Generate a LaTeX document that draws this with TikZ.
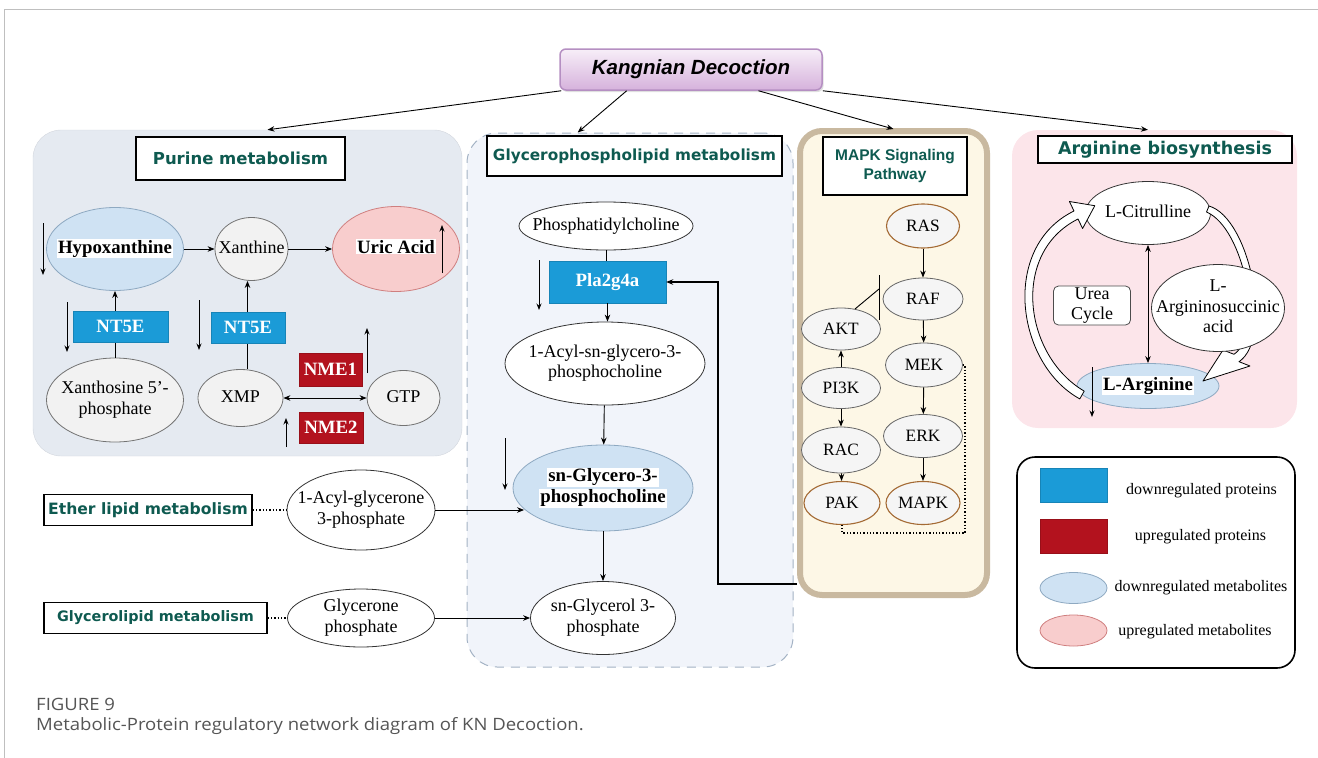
\documentclass[tikz,border=0pt]{standalone}
\usepackage{fontspec}
\usepackage{graphicx}
\setmainfont{Liberation Serif}
\newfontfamily\vsans{DejaVu Sans}
\newfontfamily\asans{Liberation Sans}
\newfontfamily\osans[FakeStretch=1.09]{Open Sans}
\usetikzlibrary{shapes.geometric,arrows.meta,calc,shadows}
\definecolor{tealT}{HTML}{0E5A50}
\definecolor{purFill}{HTML}{E5EAF1}
\definecolor{glyFill}{HTML}{F1F4FA}
\definecolor{glyDash}{HTML}{A3B2C4}
\definecolor{mapkFill}{HTML}{FDF7E6}
\definecolor{mapkEdge}{HTML}{C9B9A0}
\definecolor{argFill}{HTML}{FCE5EA}
\definecolor{metBlue}{HTML}{CFE2F3}
\definecolor{metBlueE}{HTML}{8EA9C1}
\definecolor{metPink}{HTML}{F8CDCD}
\definecolor{metPinkE}{HTML}{CF7F7F}
\definecolor{protBlue}{HTML}{1B9BD7}
\definecolor{protRed}{HTML}{B3121E}
\definecolor{nodeGray}{HTML}{F2F2F2}
\definecolor{brownE}{HTML}{A46A34}
\definecolor{kdTop}{HTML}{F7EEF8}
\definecolor{kdBot}{HTML}{D6B2DC}
\definecolor{kdEdge}{HTML}{B58FC2}
\definecolor{capGray}{HTML}{555555}
\definecolor{frameGray}{HTML}{BFBFBF}
\newcommand\FntN{\fontsize{18}{20.5}\selectfont}
\newcommand\FntB{\fontsize{18.8}{21}\selectfont\bfseries}
\newcommand\FntM{\fontsize{17.3}{19}\selectfont}
\newcommand\FntL{\fontsize{16}{18}\selectfont}
\newcommand\HiLite[1]{{\setlength{\fboxsep}{1pt}\colorbox{white}{#1}}}
\newcommand\Z[1]{\makebox[0pt]{\begin{tabular}{@{}c@{}}#1\end{tabular}}}
\begin{document}
\begin{tikzpicture}[x=1pt,y=-1pt,
 arr/.style={-{Stealth[length=7pt,width=5.5pt]},line width=0.9pt},
 darr/.style={{Stealth[length=7pt,width=5.5pt]}-{Stealth[length=7pt,width=5.5pt]},line width=0.9pt},
 ind/.style={-{Stealth[length=6.5pt,width=5pt]},line width=0.9pt},
 panel/.style={rectangle,inner sep=0pt},
 ttl/.style={rectangle,draw=black,line width=1.6pt,fill=white,inner sep=0pt,text=tealT},
 gnode/.style={ellipse,draw=black!55,fill=nodeGray,line width=0.8pt,inner sep=0pt,font=\FntN},
 wnode/.style={ellipse,draw=black!80,fill=white,line width=0.8pt,inner sep=0pt,font=\FntN},
 bnode/.style={ellipse,draw=metBlueE,fill=metBlue,line width=0.8pt,inner sep=0pt,font=\FntB},
 pnode/.style={ellipse,draw=metPinkE,fill=metPink,line width=0.8pt,inner sep=0pt,font=\FntB},
 mnode/.style={ellipse,draw=black!60,fill=white!96!black,line width=0.8pt,inner sep=0pt,font=\FntM,minimum width=79pt,minimum height=42pt},
 mbnode/.style={mnode,draw=brownE,line width=1.1pt},
 pbox/.style={rectangle,fill=protBlue,draw=protBlue!85!black,text=white,inner sep=0pt,font=\FntB},
 rbox/.style={rectangle,fill=protRed,draw=protRed!85!black,text=white,inner sep=0pt,font=\FntB},
 hollow/.style={draw=black,fill=white,line width=0.8pt,line join=round},
 dots/.style={dotted,line width=1.3pt}
]
\useasboundingbox (0,0) rectangle (1318,758);
% frame
\draw[frameGray,line width=1pt] (4.5,758) -- (4.5,9.5) -- (1318,9.5);

% panels
\node[panel,fill=purFill,draw=purFill!92!black,rounded corners=28pt,minimum width=429pt,minimum height=326pt] (purP) at (247.5,293) {};
\node[panel,fill=glyFill,draw=glyDash,dash pattern=on 9pt off 7pt,line width=1pt,rounded corners=30pt,minimum width=326pt,minimum height=534pt] (glyP) at (630,400) {};
\node[panel,fill=mapkFill,draw=mapkEdge,line width=6pt,rounded corners=22pt,minimum width=187pt,minimum height=464pt] (mapkP) at (893.5,363) {};
\node[panel,fill=argFill,rounded corners=26pt,minimum width=285pt,minimum height=298pt] (argP) at (1154.5,279) {};
\node[panel,draw=black,line width=1.6pt,rounded corners=18pt,minimum width=278pt,minimum height=211pt] (legP) at (1156,562.5) {};

% title
\node[rectangle,rounded corners=6pt,top color=kdTop,bottom color=kdBot,draw=kdEdge,line width=1.5pt,minimum width=262pt,minimum height=41pt,inner sep=0pt,drop shadow={shadow xshift=1.5pt,shadow yshift=-2pt,opacity=0.25},font=\asans\bfseries\itshape\fontsize{20.5}{24}\selectfont] (title) at (691,69.5) {Kangnian Decoction};
\draw[arr] ([xshift=2pt]title.south west) -- ([xshift=20pt]purP.north);
\draw[arr] ($(title.south west)!0.256!(title.south east)$) -- ($(glyP.north west)!0.34!(glyP.north east)$);
\draw[arr] ($(title.south west)!0.756!(title.south east)$) -- ([yshift=-1pt]mapkP.north);
\draw[arr] (title.south east) -- ($(argP.north west)!0.477!(argP.north east)$);

% panel titles
\node[ttl,minimum width=209pt,minimum height=43pt,font=\vsans\bfseries\fontsize{16.5}{19}\selectfont] (purT) at (240.5,158.5) {Purine metabolism};
\node[ttl,minimum width=295pt,minimum height=40pt,font=\vsans\bfseries\fontsize{15.3}{18}\selectfont] (glyT) at (634.5,156) {Glycerophospholipid metabolism};
\node[ttl,minimum width=144pt,minimum height=58pt,align=center,font=\asans\bfseries\fontsize{15.5}{19}\selectfont] (mapkT) at (895,166) {MAPK Signaling\\Pathway};
\node[ttl,minimum width=254pt,minimum height=27pt,font=\vsans\bfseries\fontsize{17.5}{20}\selectfont] (argT) at (1165,149.5) {Arginine biosynthesis};
\node[ttl,minimum width=208pt,minimum height=31pt,font=\vsans\bfseries\fontsize{15.6}{18}\selectfont] (etherT) at (148,510) {Ether lipid metabolism};
\node[ttl,minimum width=223pt,minimum height=31pt,font=\vsans\bfseries\fontsize{14.4}{17}\selectfont] (glT) at (155.5,618) {Glycerolipid metabolism};

% ---------- Purine ----------
\node[bnode,minimum width=137pt,minimum height=83pt] (hypo) at (115,249) {\Z{\HiLite{Hypoxanthine}}};
\node[gnode,minimum width=73pt,minimum height=63pt] (xan) at (251.5,249) {\Z{Xanthine}};
\node[pnode,minimum width=127pt,minimum height=85pt] (uric) at (396,249) {\Z{\HiLite{Uric Acid}}};
\node[gnode,minimum width=137pt,minimum height=84pt] (xs) at (115,400) {\Z{Xanthosine 5'-\\phosphate}};
\node[gnode,minimum width=85pt,minimum height=57pt] (xmp) at (240.5,398) {\Z{XMP}};
\node[gnode,minimum width=73pt,minimum height=55pt] (gtp) at (403.5,398) {\Z{GTP}};
\draw[arr] (hypo) -- (xan);
\draw[arr] (xan) -- (uric);
\draw[arr] (xs.north) -- (hypo.south);
\draw[arr] ([xshift=7pt]xmp.north) -- ([xshift=-4pt]xan.south);
\draw[darr] (xmp) -- (gtp);
\node[pbox,minimum width=95pt,minimum height=31pt] (nt1) at (120.5,326.5) {NT5E};
\node[pbox,minimum width=74pt,minimum height=31pt] (nt2) at (248,327.5) {NT5E};
\node[rbox,minimum width=63pt,minimum height=33pt] (nme1) at (330.5,369.5) {NME1};
\node[rbox,minimum width=64pt,minimum height=31pt] (nme2) at (331,427.5) {NME2};
\draw[ind] (43,223) -- (43,275);
\draw[ind] (67,302) -- (67,352);
\draw[ind] (199,300) -- (199,350);
\draw[ind] (442,273) -- (442,225);
\draw[ind] (367,373) -- (367,328);
\draw[ind] (286,447) -- (286,418);

% ---------- Glycerophospholipid ----------
\node[wnode,minimum width=174pt,minimum height=48pt] (pc) at (606,226) {\Z{Phosphatidylcholine}};
\node[pbox,minimum width=117pt,minimum height=42pt] (pla) at (607.5,282) {Pla2g4a};
\node[wnode,minimum width=200pt,minimum height=83pt] (acyl) at (605,363.5) {\Z{1-Acyl-sn-glycero-3-\\phosphocholine}};
\node[bnode,minimum width=180pt,minimum height=86pt] (sng) at (603,488) {\Z{\HiLite{sn-Glycero-3-}\\\HiLite{phosphocholine}}};
\node[wnode,minimum width=145pt,minimum height=73pt] (sngly) at (603,618) {\Z{sn-Glycerol 3-\\phosphate}};
\node[wnode,minimum width=148pt,minimum height=80pt] (acylg) at (361,510) {\Z{1-Acyl-glycerone\\3-phosphate}};
\node[wnode,minimum width=147pt,minimum height=55pt] (gp) at (361,618) {\Z{Glycerone\\phosphate}};
\draw[line width=0.9pt] (pc.south) -- (pc.south |- pla.north);
\draw[arr] (pla.south) -- (pla.south |- acyl.north);
\draw[arr] (acyl) -- (sng);
\draw[arr] (sng) -- (sngly);
\draw[arr] (acylg.east) -- (acylg.east -| sng.195);
\draw[arr] (gp) -- (sngly);
\draw[dots] (etherT) -- (acylg);
\draw[dots] (glT) -- (gp);
\draw[ind] (539,260) -- (539,310);
\draw[ind] (505,438) -- (505,490);

% ---------- MAPK ----------
\node[mbnode,minimum width=73pt,minimum height=44pt] (ras) at (923,226) {RAS};
\node[mnode,minimum width=80pt] (raf) at (923,299) {RAF};
\node[mnode] (akt) at (841,329) {AKT};
\node[mnode,minimum width=77pt,minimum height=44pt] (mek) at (924,365) {MEK};
\node[mnode,minimum height=41pt] (pi3k) at (841,388) {PI3K};
\node[mnode,minimum height=43pt] (erk) at (923,436) {ERK};
\node[mnode,minimum height=46pt] (rac) at (841,450) {RAC};
\node[mbnode,minimum width=76pt,minimum height=43pt] (pak) at (842,503) {PAK};
\node[mbnode,minimum width=74pt,minimum height=43pt] (mapk) at (923,503) {MAPK};
\draw[arr] (ras) -- (raf);
\draw[arr] (raf) -- (mek);
\draw[arr] (mek) -- (erk);
\draw[arr] (erk) -- (mapk);
\draw[arr] (pi3k) -- (akt);
\draw[arr] (pi3k) -- (rac);
\draw[arr] (rac) -- (pak);
\coordinate (inh) at (879,289);
\draw[line width=0.9pt] (akt.55) -- (inh);
\draw[line width=0.9pt] (inh) ++(0,-14) -- ++(0,45);
\coordinate (dc) at (965,533);
\draw[dots] (mek.east) -| (dc) -| (pak.south);

% feedback to Pla2g4a
\coordinate (fb) at (718,584);
\coordinate (fbR) at (mapkP.west |- fb);
\draw[arr,line width=1.1pt] (fbR) -- (fb) |- (pla.east);

% ---------- Arginine ----------
\node[wnode,minimum width=125pt,minimum height=63pt] (cit) at (1148,213) {\Z{L-Citrulline}};
\node[bnode,minimum width=142pt,minimum height=45pt] (larg) at (1148,386) {\Z{\HiLite{L-Arginine}}};
\draw[hollow] (1209,206) .. controls (1250,218) and (1274,338) .. (1239,361.7) -- (1250,366) -- (1203,381) -- (1223,350) -- (1234,354.3) .. controls (1265,333) and (1244,228) .. (1206.5,212) -- cycle;
\node[wnode,minimum width=133pt,minimum height=83pt] (asa) at (1218,308) {\Z{L-\\Argininosuccinic\\acid}};
\node[rectangle,rounded corners=5pt,draw=black!70,fill=white,line width=0.8pt,minimum width=77pt,minimum height=39pt,inner sep=0pt,align=center,font=\FntN] (urea) at (1092,305.5) {Urea\\Cycle};
\draw[darr] (cit) -- (larg);
\draw[hollow] (1079.8,398.9) .. controls (1016,364) and (1000,247) .. (1074,211) -- (1069.4,201.5) -- (1094.8,205.7) -- (1082.6,228.5) -- (1078,219) .. controls (1010,253) and (1024,356) .. (1084.2,391.1) -- cycle;
\draw[ind] (1092,367) -- (1092,417);

% ---------- Legend ----------
\node[rectangle,fill=protBlue,draw=protBlue!85!black,minimum width=67pt,minimum height=34pt,inner sep=0pt] (lg1) at (1073.5,485) {};
\node[font=\FntL,inner sep=0pt] (lg1t) at (1201.5,490.5) {downregulated proteins};
\node[rectangle,fill=protRed,draw=protRed!85!black,minimum width=67pt,minimum height=34pt,inner sep=0pt] (lg2) at (1073.5,536) {};
\node[font=\FntL,inner sep=0pt] (lg2t) at (1200.5,537) {upregulated proteins};
\node[ellipse,fill=metBlue,draw=metBlueE,line width=0.8pt,minimum width=67pt,minimum height=31pt,inner sep=0pt] (lg3) at (1073.5,588) {};
\node[font=\FntL,inner sep=0pt] (lg3t) at (1201,588) {downregulated metabolites};
\node[ellipse,fill=metPink,draw=metPinkE,line width=0.8pt,minimum width=67pt,minimum height=31pt,inner sep=0pt] (lg4) at (1073.5,630.5) {};
\node[font=\FntL,inner sep=0pt] (lg4t) at (1195,631.5) {upregulated metabolites};

% ---------- Caption ----------
\node[anchor=base west,font=\osans\fontsize{17}{20}\selectfont,text=capGray,inner sep=0pt] (figno) at (36,710) {FIGURE 9};
\node[anchor=base west,font=\osans\fontsize{17}{20}\selectfont,text=capGray,inner sep=0pt] (cap) at (36,730) {Metabolic-Protein regulatory network diagram of KN Decoction.};
\end{tikzpicture}
\end{document}
